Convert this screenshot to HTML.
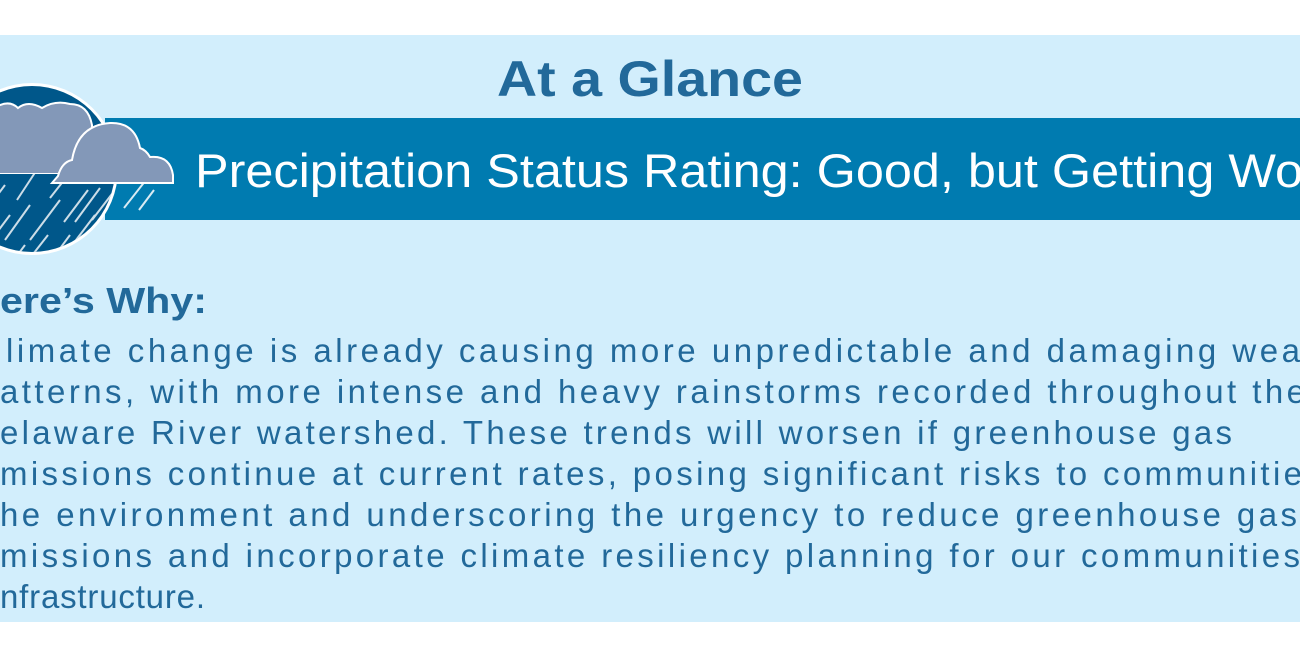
<!DOCTYPE html>
<html><head><meta charset="utf-8"><style>
html,body{margin:0;padding:0;background:#fff;}
svg{display:block;}
</style></head><body>
<svg width="1300" height="650" viewBox="0 0 1300 650" xmlns="http://www.w3.org/2000/svg">
<rect x="0" y="0" width="1300" height="650" fill="#ffffff"/>
<rect x="0" y="35" width="1300" height="587" fill="#d2eefc"/>
<rect x="105" y="118" width="1195" height="102" fill="#007bb0"/>
<defs><clipPath id="cc"><circle cx="32" cy="169" r="83"/></clipPath></defs>
<circle cx="32" cy="169" r="86" fill="#ffffff"/>
<circle cx="32" cy="169" r="83" fill="#00578a"/>
<g clip-path="url(#cc)" stroke="#ffffff" stroke-width="2" opacity="0.8">
<line x1="40" y1="165" x2="17" y2="200"/><line x1="72" y1="170" x2="50" y2="198"/>
<line x1="5" y1="185" x2="-10" y2="205"/><line x1="88" y1="190" x2="64" y2="222"/>
<line x1="100" y1="188" x2="75" y2="222"/><line x1="115" y1="190" x2="92" y2="220"/>
<line x1="60" y1="200" x2="30" y2="240"/><line x1="30" y1="205" x2="5" y2="240"/>
<line x1="10" y1="215" x2="-5" y2="235"/><line x1="95" y1="215" x2="70" y2="248"/>
<line x1="48" y1="235" x2="30" y2="258"/><line x1="70" y1="235" x2="50" y2="262"/>
<line x1="25" y1="245" x2="10" y2="265"/>
</g>
<g stroke="#ffffff" stroke-width="2" opacity="0.85">
<line x1="146" y1="180" x2="124" y2="208"/><line x1="154" y1="190" x2="139" y2="210"/>
</g>
<path d="M-2 173 L-2 106 Q10 100 18 108 Q28 100 42 108 Q55 100 70 104 Q88 104 92 125 L92 173 Z" fill="#8398b8" stroke="#fff" stroke-width="2"/>
<path d="M-2 173 L-2 110 Q10 104 18 112 Q28 104 42 112 Q60 104 75 108 Q88 112 90 130 L90 173 Z" fill="#8398b8"/>
<path d="M52 183 L58 176 Q62 162 72 160 Q78 125 110 123 Q135 122 140 148 Q146 150 150 157 Q170 155 173 175 L173 183 Z" fill="#8398b8" stroke="#fff" stroke-width="2"/>
<g font-family="Liberation Sans, sans-serif" fill="#22699a">
<text x="497" y="96" font-size="50" font-weight="bold" textLength="306" lengthAdjust="spacingAndGlyphs">At a Glance</text>
<text x="195" y="187" font-size="47" fill="#ffffff" textLength="1108" lengthAdjust="spacingAndGlyphs">Precipitation Status Rating: Good, but Getting Wo</text>
<text x="0" y="313" font-size="36" font-weight="bold" textLength="207" lengthAdjust="spacingAndGlyphs">ere’s Why:</text>
<g font-size="33">
<text x="6" y="362" textLength="1294" lengthAdjust="spacing">limate change is already causing more unpredictable and damaging wea</text>
<text x="0" y="403" textLength="1305" lengthAdjust="spacing">atterns, with more intense and heavy rainstorms recorded throughout the</text>
<text x="0" y="444" textLength="1232" lengthAdjust="spacing">elaware River watershed. These trends will worsen if greenhouse gas</text>
<text x="0" y="485" textLength="1302" lengthAdjust="spacing">missions continue at current rates, posing significant risks to communitie</text>
<text x="0" y="526" textLength="1297" lengthAdjust="spacing">he environment and underscoring the urgency to reduce greenhouse gas</text>
<text x="0" y="567" textLength="1300" lengthAdjust="spacing">missions and incorporate climate resiliency planning for our communities</text>
<text x="0" y="608" textLength="205" lengthAdjust="spacing">nfrastructure.</text>
</g>
</g>
</svg>
</body></html>
